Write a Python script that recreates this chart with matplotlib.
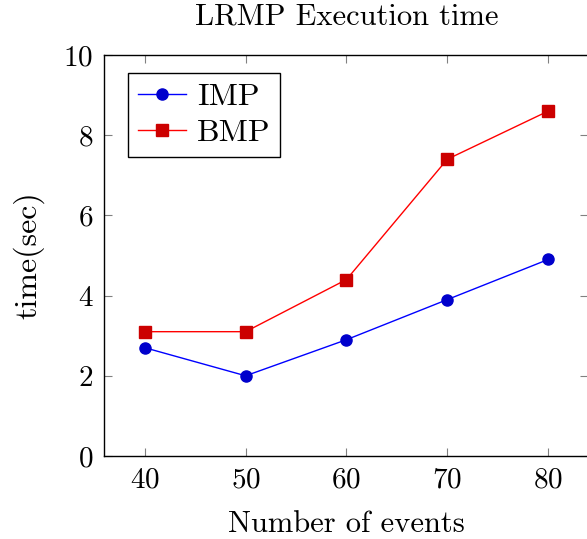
import matplotlib.pyplot as plt

plt.rcParams['font.family'] = 'cmr10'
plt.rcParams['mathtext.fontset'] = 'cm'
plt.rcParams['axes.formatter.use_mathtext'] = True

events = [40, 50, 60, 70, 80]
imp = [2.7, 2.0, 2.9, 3.9, 4.9]
bmp = [3.1, 3.1, 4.4, 7.4, 8.6]

fig = plt.figure(figsize=(5.87, 5.39), dpi=100)
ax = fig.add_axes([0.178, 0.154, 0.8245, 0.744])

ax.plot(events, imp, color='blue', lw=1, marker='o', ms=8,
        mfc=(0, 0, 0.8), mec=(0, 0, 0.8), label='IMP')
ax.plot(events, bmp, color='red', lw=1, marker='s', ms=8,
        mfc=(0.8, 0, 0), mec=(0.8, 0, 0), label='BMP')

ax.set_xlim(36, 84)
ax.set_ylim(0, 10)
ax.set_xticks(events)
ax.set_yticks([0, 2, 4, 6, 8, 10])
ax.tick_params(direction='in', length=6, color='gray', labelsize=21,
               top=True, right=True, pad=8)
for s in ax.spines.values():
    s.set_linewidth(1)

ax.set_title('LRMP Execution time', fontsize=22, pad=22)
ax.set_xlabel('Number of events', fontsize=22, labelpad=12)
ax.set_ylabel('time(sec)', fontsize=23, labelpad=14)

leg = ax.legend(loc='upper left', fontsize=23, fancybox=False,
                edgecolor='black', framealpha=1, borderpad=0.3,
                handlelength=1.5, handletextpad=0.35, labelspacing=0.25,
                borderaxespad=0, bbox_to_anchor=(0.049, 0.955))
leg.get_frame().set_linewidth(1)

fig.savefig('out.png', dpi=100)
